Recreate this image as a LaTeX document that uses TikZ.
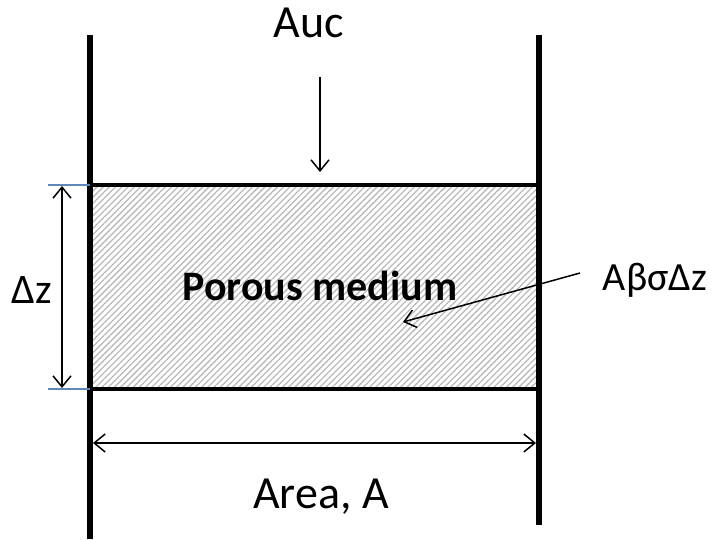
\documentclass[tikz,border=0pt]{standalone}
\usepackage{fontspec}
\setmainfont{Carlito}
\usetikzlibrary{arrows.meta,patterns.meta}
\definecolor{hatchgray}{RGB}{185,185,185}
\definecolor{tickblue}{RGB}{95,135,185}
\tikzset{
  lbl/.style={font=\fontsize{46}{52}\selectfont, inner sep=0pt, anchor=base},
  midlbl/.style={font=\fontsize{42}{50}\selectfont, inner sep=0pt, anchor=base},
  smlbl/.style={font=\fontsize{40}{48}\selectfont, inner sep=0pt, anchor=base},
  boldlbl/.style={font=\fontsize{42}{50}\selectfont\bfseries, inner sep=0pt, anchor=base},
  wall/.style={line width=6pt},
  edge/.style={line width=4pt},
  arr/.style={line width=1.5pt, -{Straight Barb[length=11pt,width=18pt,line width=1.5pt]}},
  darr/.style={line width=1.5pt, {Straight Barb[length=11pt,width=18pt,line width=1.5pt]}-{Straight Barb[length=11pt,width=18pt,line width=1.5pt]}},
  tick/.style={line width=1.3pt, draw=tickblue},
  porous/.style={pattern={Lines[angle=45,distance=4.4pt,line width=1.3pt]}, pattern color=hatchgray}
}
\begin{document}
\begin{tikzpicture}[x=1pt,y=-1pt]
\useasboundingbox (0,0) rectangle (712,539);
% box area
\coordinate (btl) at (90,185);
\coordinate (bbr) at (539,389);
\fill[porous] (btl) rectangle (bbr);
\coordinate (btr) at (539,185);
\coordinate (bbl) at (90,389);
\draw[edge] (btl) -- (btr);
\draw[edge] (bbl) -- (bbr);
% walls
\coordinate (lwt) at (90,35);
\coordinate (lwb) at (90,539);
\coordinate (rwt) at (539,35);
\coordinate (rwb) at (539,525);
\draw[wall] (lwt) -- (lwb);
\draw[wall] (rwt) -- (rwb);
% labels
\node[lbl] (auc) at (309,37) {Auc};
\node[lbl] (area) at (321,508) {Area, A};
\node[midlbl] (dz) at (32,303) {Δz};
\node[boldlbl] (pm) at (320,300) {Porous medium};
\node[smlbl] (abs) at (655,290) {AβσΔz};
% Auc arrow
\coordinate (auct) at (320,77);
\coordinate (auch) at (320,172);
\draw[arr] (auct) -- (auch);
% blue ticks
\coordinate (tt1) at (48,185);
\coordinate (tb1) at (48,389);
\draw[tick] (tt1) -- (btl);
\draw[tick] (tb1) -- (bbl);
% dz arrow
\coordinate (dzt) at (62,186);
\coordinate (dzb) at (62,388);
\draw[darr] (dzt) -- (dzb);
% area arrow
\coordinate (arl) at (93,443);
\coordinate (arr) at (536,443);
\draw[darr] (arl) -- (arr);
% abs arrow
\coordinate (abst) at (580,273);
\coordinate (absh) at (403,322);
\draw[arr] (abst) -- (absh);
\end{tikzpicture}
\end{document}
